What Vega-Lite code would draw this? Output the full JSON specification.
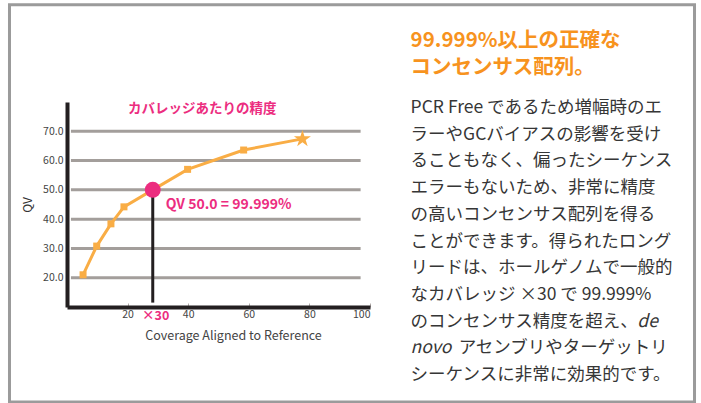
{
  "$schema": "https://vega.github.io/schema/vega-lite/v6.json",
  "width": 303,
  "height": 205,
  "autosize": {"type": "none"},
  "padding": {"left": 67, "top": 102, "right": 331, "bottom": 96},
  "background": "white",
  "config": {"view": {"stroke": null}, "font": "Noto Sans CJK JP"},
  "datasets": {
    "curve": [
      {"cov": 5.3, "qv": 21.0},
      {"cov": 9.8, "qv": 30.8},
      {"cov": 14.5, "qv": 38.4},
      {"cov": 18.8, "qv": 44.2},
      {"cov": 28.3, "qv": 50.0},
      {"cov": 39.8, "qv": 57.0},
      {"cov": 58.3, "qv": 63.6},
      {"cov": 77.7, "qv": 67.4}
    ],
    "grid": [{"qv": 20}, {"qv": 30}, {"qv": 40}, {"qv": 50}, {"qv": 60}, {"qv": 70}],
    "heading": [
      {"line": -1.5, "text": "99.999%以上の正確な"},
      {"line": -0.5, "text": "コンセンサス配列。"}
    ],
    "body": [
      {"line": 1, "text": "PCR Free であるため増幅時のエ"},
      {"line": 2, "text": "ラーやGCバイアスの影響を受け"},
      {"line": 3, "text": "ることもなく、偏ったシーケンス"},
      {"line": 4, "text": "エラーもないため、非常に精度"},
      {"line": 5, "text": "の高いコンセンサス配列を得る"},
      {"line": 6, "text": "ことができます。得られたロング"},
      {"line": 7, "text": "リードは、ホールゲノムで一般的"},
      {"line": 8, "text": "なカバレッジ ×30 で 99.999%"},
      {"line": 9, "text": "のコンセンサス精度を超え、"},
      {"line": 9, "text": "de"},
      {"line": 10, "text": "novo"},
      {"line": 10, "text": "アセンブリやターゲットリ"},
      {"line": 11, "text": "シーケンスに非常に効果的です。"}
    ]
  },
  "layer": [
    {
      "layer": [
        {
          "data": {"values": [{}]},
          "mark": {"type": "rect", "fill": "transparent", "stroke": "#9b9b9b", "strokeWidth": 3},
          "encoding": {
            "x": {"datum": -18.98}, "x2": {"datum": 207.1},
            "y": {"datum": 113.19}, "y2": {"datum": -22.43}
          }
        },
        {
          "data": {"name": "grid"},
          "mark": {"type": "rule", "color": "#a39e9b", "strokeWidth": 3},
          "encoding": {
            "x": {"datum": 1.3}, "x2": {"datum": 96.9},
            "y": {"field": "qv", "type": "quantitative"}
          }
        },
        {
          "data": {"name": "curve"},
          "mark": {"type": "line", "color": "#f9ad45", "strokeWidth": 3},
          "encoding": {
            "x": {"field": "cov", "type": "quantitative",
              "scale": {"domain": [0, 100], "nice": false, "zero": false},
              "axis": {"values": [20, 40, 60, 80, 100], "domainColor": "#231f20", "domainWidth": 4,
                "ticks": true, "tickColor": "#b0aaa8", "tickSize": -4, "tickWidth": 1,
                "grid": false, "labelFontSize": 10.5, "labelColor": "#444444", "labelFlush": true,
                "labelOverlap": false, "labelPadding": 6, "title": "Coverage Aligned to Reference", "titleFontSize": 12.5,
                "titleFontWeight": "normal", "titleColor": "#444444", "titlePadding": 10, "titleX": 166}},
            "y": {"field": "qv", "type": "quantitative",
              "scale": {"domain": [10, 80], "nice": false, "zero": false},
              "axis": {"values": [20, 30, 40, 50, 60, 70], "format": ".1f", "domainColor": "#231f20",
                "domainWidth": 4, "ticks": false, "grid": false, "labelFontSize": 10.5,
                "labelColor": "#444444", "labelPadding": 4, "title": "QV", "titleFontSize": 12,
                "titleFontWeight": "normal", "titleColor": "#333333", "titlePadding": 8}}
          }
        },
        {
          "data": {"name": "curve"},
          "transform": [{"filter": "datum.qv == 50"}],
          "mark": {"type": "rule", "color": "#231f20", "strokeWidth": 3},
          "encoding": {
            "x": {"field": "cov", "type": "quantitative"},
            "y": {"field": "qv", "type": "quantitative"},
            "y2": {"datum": 11.5}
          }
        },
        {
          "data": {"name": "curve"},
          "transform": [{"filter": "datum.qv != 50 && datum.cov < 70"}],
          "mark": {"type": "point", "shape": "square", "filled": true, "color": "#f9ad45", "size": 49, "opacity": 1},
          "encoding": {
            "x": {"field": "cov", "type": "quantitative"},
            "y": {"field": "qv", "type": "quantitative"}
          }
        },
        {
          "data": {"name": "curve"},
          "transform": [{"filter": "datum.cov > 70"}],
          "mark": {"type": "point", "shape": "M0,-1L0.2245,-0.309L0.9511,-0.309L0.3633,0.118L0.5878,0.809L0,0.382L-0.5878,0.809L-0.3633,0.118L-0.9511,-0.309L-0.2245,-0.309Z", "filled": true, "color": "#f9ad45", "size": 320, "opacity": 1},
          "encoding": {
            "x": {"field": "cov", "type": "quantitative"},
            "y": {"field": "qv", "type": "quantitative"}
          }
        },
        {
          "data": {"name": "curve"},
          "transform": [{"filter": "datum.qv == 50"}],
          "mark": {"type": "point", "shape": "circle", "filled": true, "color": "#ec2d7f", "size": 256, "opacity": 1},
          "encoding": {
            "x": {"field": "cov", "type": "quantitative"},
            "y": {"field": "qv", "type": "quantitative"}
          }
        },
        {
          "data": {"name": "curve"},
          "transform": [{"filter": "datum.qv == 50"}],
          "mark": {"type": "text", "text": "QV 50.0 = 99.999%", "align": "left", "baseline": "middle",
            "dx": 13, "dy": 15, "fontSize": 14, "fontWeight": "bold", "color": "#ec2d7f"},
          "encoding": {
            "x": {"field": "cov", "type": "quantitative"},
            "y": {"field": "qv", "type": "quantitative"}
          }
        },
        {
          "data": {"name": "curve"},
          "transform": [{"filter": "datum.qv == 50"}],
          "mark": {"type": "text", "text": "×30", "align": "center", "baseline": "middle",
            "dx": 3, "dy": 126, "fontSize": 12.5, "fontWeight": "bold", "color": "#ec2d7f"},
          "encoding": {
            "x": {"field": "cov", "type": "quantitative"},
            "y": {"field": "qv", "type": "quantitative"}
          }
        },
        {
          "data": {"values": [{}]},
          "mark": {"type": "text", "text": "カバレッジあたりの精度", "align": "center", "baseline": "middle",
            "fontSize": 13.5, "fontWeight": "bold", "color": "#ec2d7f"},
          "encoding": {"x": {"datum": 44.6}, "y": {"datum": 77.6}}
        }
      ]
    },
    {
      "encoding": {
        "y": {"field": "line", "type": "quantitative",
          "scale": {"domain": [0.775, 8.453], "reverse": true, "nice": false, "zero": false}, "axis": null}
      },
      "layer": [
        {
          "data": {"name": "heading"},
          "mark": {"type": "text", "align": "left", "baseline": "middle", "fontSize": 20.5,
            "fontWeight": "bold", "color": "#f7931e"},
          "encoding": {"x": {"datum": 113.4}, "text": {"field": "text"}}
        },
        {
          "data": {"name": "body"},
          "transform": [{"filter": "datum.text != 'de' && datum.text != 'novo' && datum.text != 'アセンブリやターゲットリ'"}],
          "mark": {"type": "text", "align": "left", "baseline": "middle", "fontSize": 17.5, "color": "#363636"},
          "encoding": {"x": {"datum": 113.4}, "text": {"field": "text"}}
        },
        {
          "data": {"name": "body"},
          "transform": [{"filter": "datum.text == 'novo'"}],
          "mark": {"type": "text", "align": "left", "baseline": "middle", "fontSize": 17.5, "fontStyle": "italic", "color": "#363636"},
          "encoding": {"x": {"datum": 113.4}, "text": {"field": "text"}}
        },
        {
          "data": {"name": "body"},
          "transform": [{"filter": "datum.text == 'de'"}],
          "mark": {"type": "text", "align": "right", "baseline": "middle", "fontSize": 17.5, "fontStyle": "italic", "color": "#363636"},
          "encoding": {"x": {"datum": 195}, "text": {"field": "text"}}
        },
        {
          "data": {"name": "body"},
          "transform": [{"filter": "datum.text == 'アセンブリやターゲットリ'"}],
          "mark": {"type": "text", "align": "right", "baseline": "middle", "fontSize": 17.5, "color": "#363636"},
          "encoding": {"x": {"datum": 198.3}, "text": {"field": "text"}}
        }
      ]
    }
  ],
  "resolve": {"scale": {"y": "independent"}}
}
